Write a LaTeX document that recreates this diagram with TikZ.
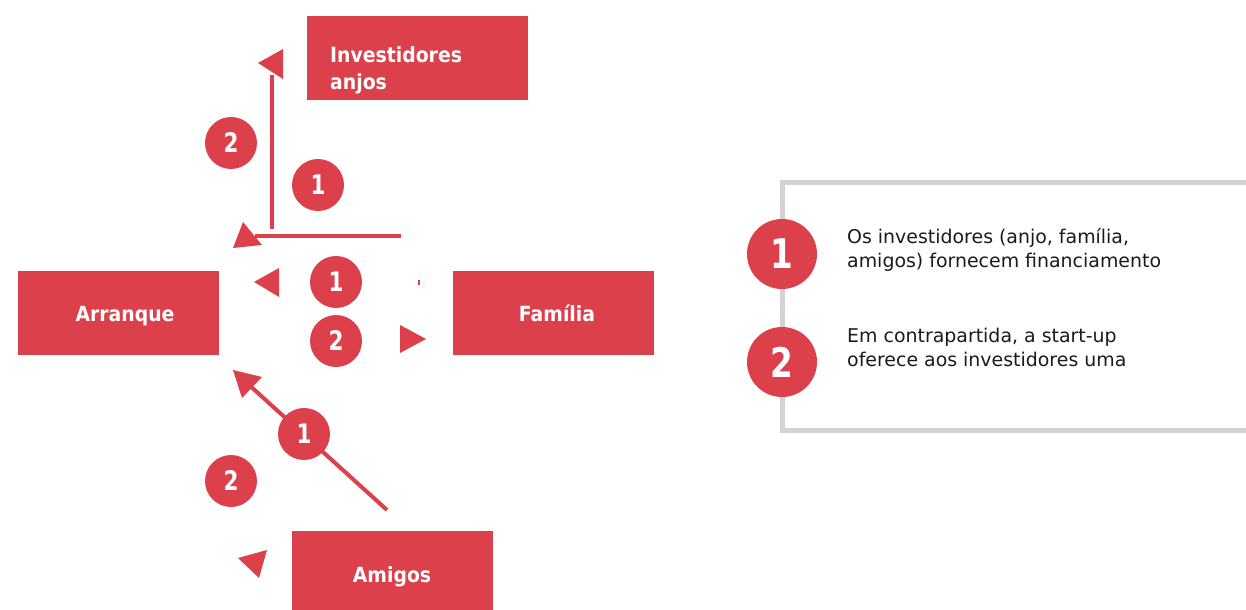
\documentclass[tikz,border=0pt]{standalone}
\usepackage{fontspec}
\setmainfont{DejaVu Sans}
\newfontfamily\numfont{DejaVu Sans}[FakeStretch=0.8]
\newfontfamily\boxfont{DejaVu Sans}[FakeStretch=0.9]
\usetikzlibrary{positioning}
\definecolor{brandred}{RGB}{219,64,75}
\definecolor{framegray}{RGB}{211,211,212}
\definecolor{legendtext}{RGB}{26,26,26}
\tikzset{
  redbox/.style={fill=brandred, draw=none, inner sep=0pt},
  boxlabel/.style={text=white, inner sep=0pt, align=left, font=\fontsize{21}{27}\boxfont\bfseries},
  stepnum/.style={circle, fill=brandred, text=white, minimum size=52bp, inner sep=0pt, font=\fontsize{27}{27}\numfont\bfseries},
  legendnum/.style={circle, fill=brandred, text=white, minimum size=70bp, inner sep=0pt, font=\fontsize{41}{41}\numfont\bfseries},
  legendlabel/.style={text=legendtext, inner sep=0pt, align=left, anchor=north west, font=\fontsize{19}{24.5}\selectfont},
  flowline/.style={draw=brandred, line width=4bp},
  flowhead/.style={fill=brandred}
}
\begin{document}
\begin{tikzpicture}[x=1bp, y=-1bp]
\useasboundingbox (0,0) rectangle (1246,610);
% boxes
\node[redbox, minimum width=221bp, minimum height=84bp] (anjos) at (417.5,58) {};
\node[boxlabel, anchor=west] (anjostext) at (330,70) {Investidores\\anjos};
\node[redbox, minimum width=201bp, minimum height=84bp] (arranque) at (118.5,313) {};
\node[boxlabel] (arranquetext) at (125,316) {Arranque};
\node[redbox, minimum width=201bp, minimum height=84bp] (familia) at (553.5,313) {};
\node[boxlabel] (familiatext) at (557,313) {Família};
\node[redbox, minimum width=201bp, minimum height=80bp] (amigos) at (392.5,571) {};
\node[boxlabel] (amigostext) at (392,577) {Amigos};
% connectors
\coordinate (vtop) at (272,75);
\coordinate (vbot) at (272,229);
\coordinate (hright) at (401,236);
\coordinate (hleft) at (255,236);
\coordinate (dstart) at (387,510);
\coordinate (dend) at (248,384);
\draw[flowline] (vbot) -- (vtop);
\draw[flowline] (hright) -- (hleft);
\draw[flowline] (dstart) -- (dend);
\fill[flowhead] (258,63) -- (283,49) -- (283,79) -- cycle;
\fill[flowhead] (233,248) -- (243,222) -- (262,245) -- cycle;
\fill[flowhead] (254,282) -- (279,268) -- (279,297) -- cycle;
\fill[flowhead] (400,325) -- (400,353) -- (426,339) -- cycle;
\fill[flowhead] (233,370) -- (262,377) -- (242,398) -- cycle;
\fill[flowhead] (238,558) -- (267,550) -- (259,578) -- cycle;
\draw[brandred, line width=1.2bp] (419,280) -- (419,285);
% step numbers
\node[stepnum] (anjostwo) at (231,143) {2};
\node[stepnum] (anjosone) at (318,185) {1};
\node[stepnum] (familiaone) at (336,282) {1};
\node[stepnum] (familiatwo) at (336,341) {2};
\node[stepnum] (amigosone) at (304,434) {1};
\node[stepnum] (amigostwo) at (231,481) {2};
% legend
\draw[framegray, line width=5bp] (1250,183) -- (782,183) -- (782,430) -- (1250,430);
\node[legendnum] (legendone) at (782,254) {1};
\node[legendnum] (legendtwo) at (782,362) {2};
\node[legendlabel] (legendonetext) at (847,228) {Os investidores (anjo, família,\\amigos) fornecem financiamento};
\node[legendlabel] (legendtwotext) at (847,328) {Em contrapartida, a start-up\\oferece aos investidores uma};
\end{tikzpicture}
\end{document}
